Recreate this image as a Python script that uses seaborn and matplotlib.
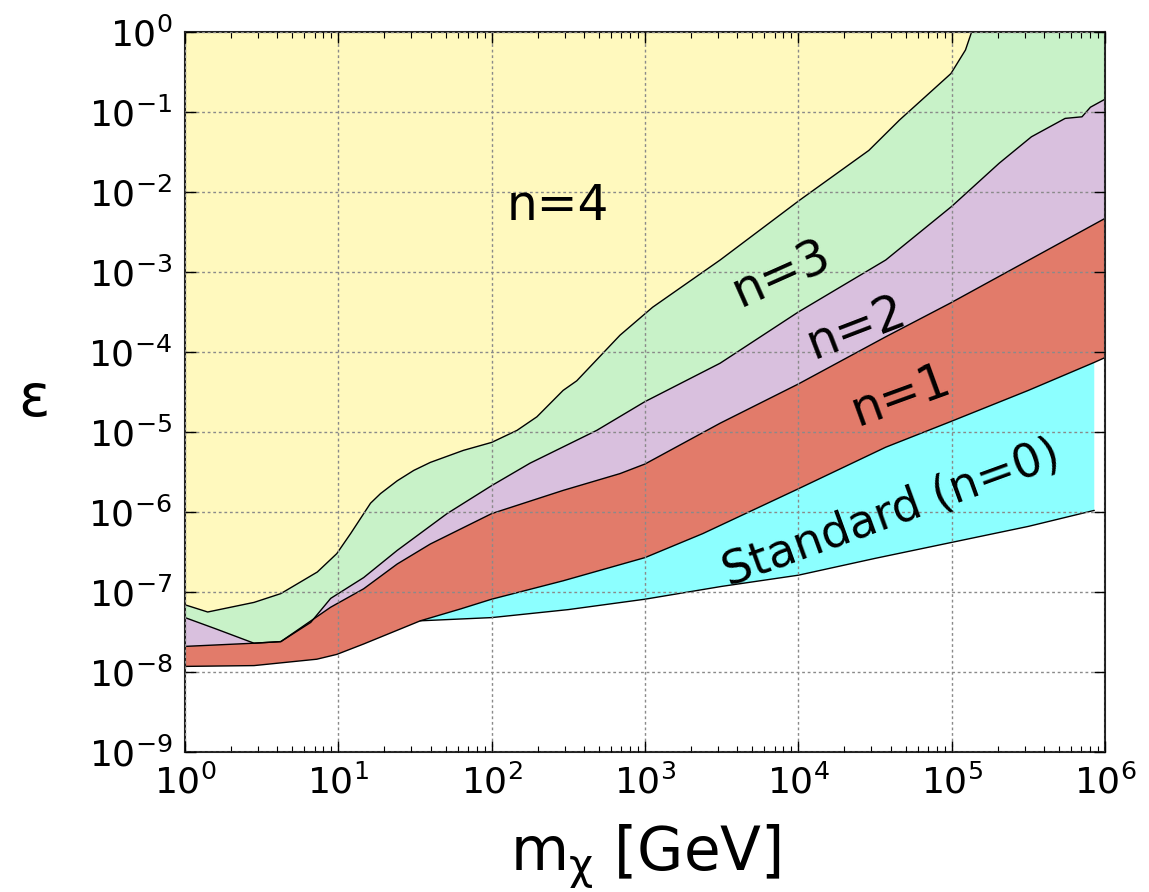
import numpy as np
import pandas as pd
import matplotlib
matplotlib.use("Agg")
import matplotlib.pyplot as plt
import seaborn as sns
from matplotlib.ticker import LogLocator, NullLocator

# ---- data: boundaries (log10 mass, -log10 epsilon) ----
n3_upper_logm = [0.0, 0.148, 0.45, 0.625, 0.863, 0.99, 1.08, 1.21, 1.275, 1.384, 1.492, 1.6, 1.815, 2.0,
                 2.165, 2.295, 2.466, 2.555, 2.837, 3.05, 3.49, 4.01, 4.46, 4.66, 4.995, 5.09, 5.13]
n3_upper_k = [7.16, 7.25, 7.13, 7.02, 6.75, 6.52, 6.27, 5.89, 5.77, 5.61, 5.48, 5.38, 5.23, 5.13,
              4.98, 4.81, 4.48, 4.36, 3.79, 3.44, 2.85, 2.10, 1.48, 1.10, 0.52, 0.225, 0.0]

n2_upper_logm = [0.0, 0.2, 0.45, 0.625, 0.82, 0.95, 1.165, 1.384, 1.709, 2.0, 2.25, 2.685,
                 3.0, 3.49, 4.0, 4.57, 5.0, 5.31, 5.52, 5.74, 5.85, 5.905, 6.0]
n2_upper_k = [7.32, 7.46, 7.64, 7.62, 7.38, 7.08, 6.82, 6.48, 6.02, 5.67, 5.39, 4.98,
              4.62, 4.14, 3.50, 2.85, 2.18, 1.64, 1.31, 1.08, 1.06, 0.94, 0.84]

n1_upper_logm = [0.0, 0.45, 0.625, 0.95, 1.165, 1.384, 1.6, 2.0, 2.466, 2.837, 3.0, 3.49,
                 4.0, 4.57, 4.99, 6.0]
n1_upper_k = [7.68, 7.64, 7.62, 7.19, 6.96, 6.65, 6.40, 6.02, 5.73, 5.52, 5.40, 4.89,
              4.40, 3.81, 3.39, 2.33]

n1_lower_logm = [0.0, 0.45, 0.86, 0.99, 1.165, 1.535, 1.8, 2.0, 2.466, 3.0, 3.377, 4.0,
                 4.57, 4.98, 5.5, 5.93, 6.0]
n1_lower_k = [7.93, 7.92, 7.84, 7.78, 7.65, 7.36, 7.21, 7.09, 6.86, 6.57, 6.27, 5.71,
              5.19, 4.88, 4.48, 4.13, 4.07]

n0_lower_logm = [1.535, 2.0, 2.5, 3.0, 3.5, 4.0, 4.5, 5.0, 5.5, 5.93]
n0_lower_k = [7.36, 7.32, 7.22, 7.09, 6.93, 6.79, 6.58, 6.38, 6.18, 5.98]

region_labels = ["n=4", "n=3", "n=2", "n=1", "Standard (n=0)"]
label_logm = [2.43, 3.89, 4.376, 4.67, 4.61]
label_k = [2.17, 3.02, 3.69, 4.54, 6.02]
label_rot = [0, 24, 21, 20, 20]

x_ticks = [1e0, 1e1, 1e2, 1e3, 1e4, 1e5, 1e6]
y_ticks = [1e-9, 1e-8, 1e-7, 1e-6, 1e-5, 1e-4, 1e-3, 1e-2, 1e-1, 1e0]

colors = {"n4": "#FFF9BE", "n3": "#C8F2C8", "n2": "#D9C0DE", "n1": "#E27B6A", "n0": "#8CFFFF"}


def curve(logm, k):
    return 10.0 ** np.array(logm, float), 10.0 ** (-np.array(k, float))


x3, y3 = curve(n3_upper_logm, n3_upper_k)
x2, y2 = curve(n2_upper_logm, n2_upper_k)
x1u, y1u = curve(n1_upper_logm, n1_upper_k)
x1l, y1l = curve(n1_lower_logm, n1_lower_k)
x0, y0 = curve(n0_lower_logm, n0_lower_k)

sns.set_style("ticks")
plt.rcParams["font.family"] = ["DejaVu Sans"]
plt.rcParams["mathtext.fontset"] = "dejavusans"
for key in ["text.color", "axes.labelcolor", "xtick.color", "ytick.color", "axes.edgecolor"]:
    plt.rcParams[key] = "black"

fig = plt.figure(figsize=(11.49, 8.92), dpi=100)
ax = fig.add_axes([185 / 1149, 1 - 752 / 892, 920 / 1149, 720 / 892])
ax.set_xscale("log")
ax.set_yscale("log")

# filled regions
ax.fill(np.r_[x3, 1.0], np.r_[y3, 1.0], color=colors["n4"], lw=0, zorder=1)
ax.fill(np.r_[x2, 1e6, x3[::-1]], np.r_[y2, 1.0, y3[::-1]], color=colors["n3"], lw=0, zorder=1)
ax.fill(np.r_[x1u, x2[::-1]], np.r_[y1u, y2[::-1]], color=colors["n2"], lw=0, zorder=1)
ax.fill(np.r_[x1l, x1u[::-1]], np.r_[y1l, y1u[::-1]], color=colors["n1"], lw=0, zorder=1)
sel = (x1l >= x0[0] - 1e-9) & (x1l <= x0[-1] * 1.0001)
ax.fill(np.r_[x0, x1l[sel][::-1]], np.r_[y0, y1l[sel][::-1]], color=colors["n0"], lw=0, zorder=1)

# boundary lines
for xx, yy in [(x3, y3), (x2, y2), (x1u, y1u), (x1l, y1l), (x0, y0)]:
    df = pd.DataFrame({"m": xx, "eps": yy})
    sns.lineplot(data=df, x="m", y="eps", ax=ax, color="black", lw=1.0,
                 sort=False, estimator=None, zorder=2)

ax.set_xlim(1, 1e6)
ax.set_ylim(1e-9, 1)
ax.set_xticks(x_ticks)
ax.set_yticks(y_ticks)
ax.xaxis.set_minor_locator(LogLocator(base=10, subs=np.arange(2, 10), numticks=20))
ax.yaxis.set_minor_locator(NullLocator())

ax.set_axisbelow(False)
ax.grid(True, which="major", ls=(0, (2, 2)), color="#8a8a8a", lw=1.0)

ax.tick_params(which="both", direction="in", top=True, right=True, labelsize=26, colors="black")
ax.tick_params(which="major", length=8, width=1.0, pad=9)
ax.tick_params(which="minor", length=4, width=0.8)
for s in ax.spines.values():
    s.set_linewidth(1.5)
    s.set_color("#222222")

ax.set_xlabel(r"m$_{\mathrm{\chi}}$ [GeV]", fontsize=43, color="black")
ax.xaxis.set_label_coords(0.5, -0.098)
ax.set_ylabel("ε", rotation=0, fontsize=42, ha="center", va="center", color="black")
ax.yaxis.set_label_coords(-0.164, 0.49)

for lab, lm, kk, rot in zip(region_labels, label_logm, label_k, label_rot):
    ax.text(10 ** lm, 10 ** (-kk), lab, fontsize=35 if lab.startswith("n") else 33,
            color="black", ha="center", va="center", rotation=rot,
            rotation_mode="anchor", zorder=4)

fig.savefig("out.png", dpi=100)
